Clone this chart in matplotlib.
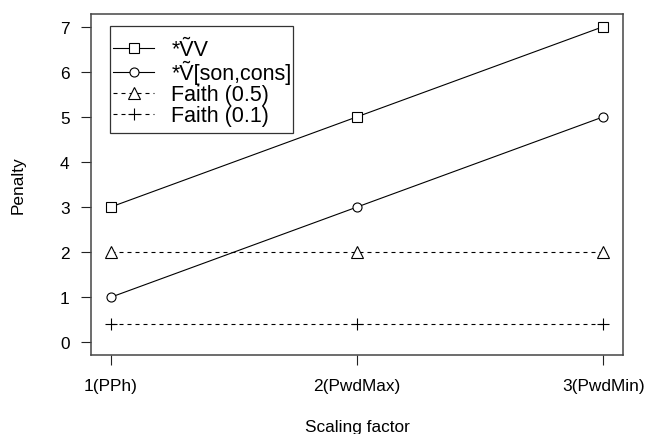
import matplotlib
matplotlib.use("Agg")
import matplotlib.pyplot as plt
from matplotlib.patches import Rectangle

plt.rcParams['font.family'] = ['Liberation Sans', 'DejaVu Sans']

x_labels = ["1(PPh)", "2(PwdMax)", "3(PwdMin)"]
x_pos = [1, 2, 3]
vv = [3, 5, 7]
v_son_cons = [1, 3, 5]
faith_05 = [2, 2, 2]
faith_01 = [0.4, 0.4, 0.4]
series_names = ["*\u1E7CV", "*\u1E7C[son,cons]", "Faith (0.5)", "Faith (0.1)"]

fig = plt.figure(figsize=(6.46, 4.35), dpi=100)
ax = fig.add_axes([91/646, 1-356/435, (623-91)/646, (356-15)/435])

lw = 0.8
dash = (3.6, 3.6)
ax.plot(x_pos, vv, color='black', lw=lw, marker='s', ms=6.5, mfc='white', mec='black', mew=0.8, label=series_names[0])
ax.plot(x_pos, v_son_cons, color='black', lw=lw, marker='o', ms=6.5, mfc='white', mec='black', mew=0.8, label=series_names[1])
ax.plot(x_pos, faith_05, color='black', lw=lw, ls=(0, dash), marker='^', ms=8, mfc='white', mec='black', mew=0.8, label=series_names[2])
ax.plot(x_pos, faith_01, color='black', lw=lw, ls=(0, dash), marker='+', ms=9, mec='black', mew=0.8, label=series_names[3])

ax.set_xlim(1 - 0.08, 3 + 0.08)
ax.set_ylim(-0.28, 7.28)
ax.set_xticks(x_pos)
ax.set_xticklabels(x_labels)
ax.set_yticks(range(0, 8))

for s in ax.spines.values():
    s.set_color('#454545')
    s.set_linewidth(1.1)

ax.tick_params(axis='both', direction='out', length=7.5, width=0.8, color='#222222', labelsize=12.4)
ax.tick_params(axis='y', pad=8)
ax.tick_params(axis='x', pad=9)

ax.set_xlabel("Scaling factor", fontsize=12.4)
ax.set_ylabel("Penalty", fontsize=12.4)
ax.xaxis.set_label_coords(0.5, -0.189)
ax.yaxis.set_label_coords(-0.122, 0.5)

# legend frame (R-style: tight horizontally, looser vertically)
ax.add_patch(Rectangle((19/532, (356-134)/341), 183/532, 107/341, transform=ax.transAxes,
                       fill=True, facecolor='white', edgecolor='#333333', lw=0.9, zorder=4))

leg = ax.legend(loc='upper left', bbox_to_anchor=(19/532, (356-37)/341), borderaxespad=0,
                fontsize=15.5, frameon=False,
                handlelength=1.9, handletextpad=0.8, labelspacing=0.0, borderpad=0.15)
leg.set_zorder(5)

fig.savefig("out.png", dpi=100)
